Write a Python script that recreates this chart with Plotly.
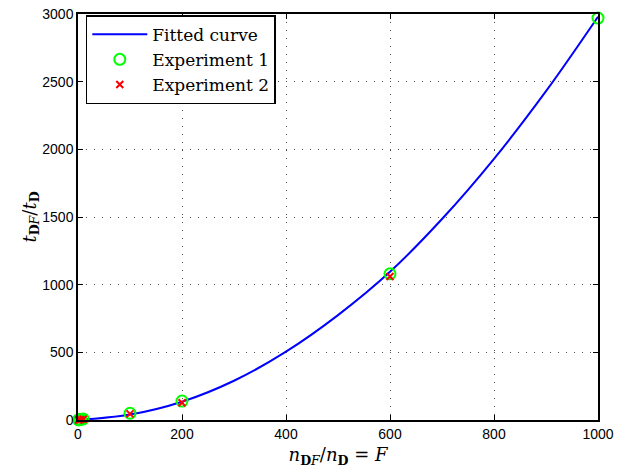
import plotly.graph_objects as go

# Fitted curve
curve_x = [0, 100, 200, 300, 400, 500, 600, 700, 800, 900, 1000]
curve_y = [0, 40, 135, 290, 505, 775, 1095, 1485, 1930, 2430, 2980]

# Experiments
exp_x = [1, 2, 5, 10, 100, 200, 600, 1000]
exp1_y = [1, 2, 4, 8, 50, 140, 1080, 2970]
exp2_y = [0, 1, 3, 6, 45, 128, 1060, 3020]

x_ticks = [0, 200, 400, 600, 800, 1000]
y_ticks = [0, 500, 1000, 1500, 2000, 2500, 3000]

fig = go.Figure()
fig.add_trace(go.Scatter(x=curve_x, y=curve_y, mode="lines", name="Fitted curve",
                         line=dict(color="#0000ff", width=2, shape="spline"),
                         cliponaxis=False))
fig.add_trace(go.Scatter(x=exp_x, y=exp1_y, mode="markers", name="Experiment 1",
                         marker=dict(symbol="circle-open", color="#00ff00", size=11,
                                     line=dict(width=2, color="#00ff00")),
                         cliponaxis=False))
fig.add_trace(go.Scatter(x=exp_x, y=exp2_y, mode="markers", name="Experiment 2",
                         marker=dict(symbol="x-thin-open", color="#ff0000", size=7,
                                     line=dict(width=2, color="#ff0000")),
                         cliponaxis=False))

axis_common = dict(showline=True, linecolor="black", linewidth=1.5, mirror="ticks",
                   ticks="inside", ticklen=5, tickcolor="black",
                   showgrid=True, gridcolor="#555555", griddash="1px,7px", gridwidth=1,
                   zeroline=False,
                   tickfont=dict(family="Liberation Sans, Arial", size=14, color="black"))

fig.update_layout(
    width=622, height=468,
    margin=dict(l=78, r=24, t=14, b=48),
    paper_bgcolor="white", plot_bgcolor="white",
    showlegend=True,
    legend=dict(x=0.015, y=0.997, xanchor="left", yanchor="top",
                bordercolor="black", borderwidth=1.5, bgcolor="white",
                font=dict(family="DejaVu Serif, Liberation Serif", size=17, color="black"),
                tracegroupgap=0, itemwidth=55),
    xaxis=dict(range=[0, 1000], tickvals=x_ticks, automargin=False,
               title=dict(text="<i>n</i><sub><b>D</b><i>F</i></sub>/<i>n</i><sub><b>D</b></sub> = <i>F</i>",
                          font=dict(family="DejaVu Serif, Liberation Serif", size=18, color="black")),
               **axis_common),
    yaxis=dict(range=[0, 3000], tickvals=y_ticks, automargin="left",
               title=dict(text="<i>t</i><sub><b>D</b><i>F</i></sub>/<i>t</i><sub><b>D</b></sub>",
                          font=dict(family="DejaVu Serif, Liberation Serif", size=18, color="black"),
                          standoff=1),
               **axis_common),
)

fig.write_html("out.html", config={"displayModeBar": False},
               post_script="document.body.style.margin='0px';")
